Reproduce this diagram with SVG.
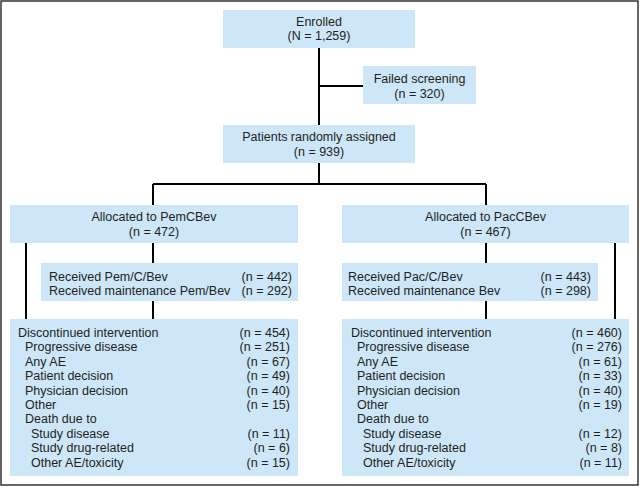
<svg xmlns="http://www.w3.org/2000/svg" width="640" height="487" viewBox="0 0 640 487">
<style>
.box{fill:#cde6f8;}
.t{font-family:"Liberation Sans",Arial,sans-serif;font-size:12.5px;fill:#231f20;}
.c{text-anchor:middle;}
.r{text-anchor:end;}
.ln{stroke:#000;stroke-width:2;fill:none;}
</style>
<rect x="1" y="1" width="637" height="484" fill="#fff" stroke="#333" stroke-width="1.5"/>
<g id="connectors">
<path class="ln" d="M319 48V125M319 86H363M319 163V184M153 184H486M153 184V205M486 184V205M153 243V263M153 301V319M486 243V263M486 301V319M26 243V319M615 243V319"/>
</g>
<g id="enrolled">
<rect class="box" x="223" y="10" width="192" height="38"/>
<text class="t c" x="319" y="26">Enrolled</text>
<text class="t c" x="319" y="40">(N = 1,259)</text>
</g>
<g id="failed">
<rect class="box" x="363" y="66" width="113" height="38"/>
<text class="t c" x="419.5" y="83">Failed screening</text>
<text class="t c" x="419.5" y="98">(n = 320)</text>
</g>
<g id="randomized">
<rect class="box" x="223" y="125" width="192" height="38"/>
<text class="t c" x="319" y="141">Patients randomly assigned</text>
<text class="t c" x="319" y="156">(n = 939)</text>
</g>
<g id="allocPem">
<rect class="box" x="10" y="205" width="288" height="38"/>
<text class="t c" x="154" y="221">Allocated to PemCBev</text>
<text class="t c" x="154" y="236">(n = 472)</text>
</g>
<g id="allocPac">
<rect class="box" x="342" y="205" width="287" height="38"/>
<text class="t c" x="485.5" y="221">Allocated to PacCBev</text>
<text class="t c" x="485.5" y="236">(n = 467)</text>
</g>
<g id="recvPem">
<rect class="box" x="41" y="263" width="257" height="38"/>
<text class="t" x="49" y="281">Received Pem/C/Bev</text>
<text class="t r" x="292" y="281">(n = 442)</text>
<text class="t" x="49" y="295">Received maintenance Pem/Bev</text>
<text class="t r" x="292" y="295">(n = 292)</text>
</g>
<g id="recvPac">
<rect class="box" x="342" y="263" width="256" height="38"/>
<text class="t" x="348" y="281">Received Pac/C/Bev</text>
<text class="t r" x="591" y="281">(n = 443)</text>
<text class="t" x="348" y="295">Received maintenance Bev</text>
<text class="t r" x="591" y="295">(n = 298)</text>
</g>
<g id="discPem">
<rect class="box" x="10" y="319" width="288" height="157"/>
<text class="t" x="18" y="337">Discontinued intervention</text><text class="t r" x="290" y="337">(n = 454)</text>
<text class="t" x="25" y="351.4">Progressive disease</text><text class="t r" x="290" y="351.4">(n = 251)</text>
<text class="t" x="25" y="365.8">Any AE</text><text class="t r" x="290" y="365.8">(n = 67)</text>
<text class="t" x="25" y="380.2">Patient decision</text><text class="t r" x="290" y="380.2">(n = 49)</text>
<text class="t" x="25" y="394.6">Physician decision</text><text class="t r" x="290" y="394.6">(n = 40)</text>
<text class="t" x="25" y="409">Other</text><text class="t r" x="290" y="409">(n = 15)</text>
<text class="t" x="25" y="423.4">Death due to</text>
<text class="t" x="31" y="437.8">Study disease</text><text class="t r" x="290" y="437.8">(n = 11)</text>
<text class="t" x="31" y="452.2">Study drug-related</text><text class="t r" x="290" y="452.2">(n = 6)</text>
<text class="t" x="31" y="466.6">Other AE/toxicity</text><text class="t r" x="290" y="466.6">(n = 15)</text>
</g>
<g id="discPac">
<rect class="box" x="342" y="319" width="287" height="157"/>
<text class="t" x="351" y="337">Discontinued intervention</text><text class="t r" x="622" y="337">(n = 460)</text>
<text class="t" x="357" y="351.4">Progressive disease</text><text class="t r" x="622" y="351.4">(n = 276)</text>
<text class="t" x="357" y="365.8">Any AE</text><text class="t r" x="622" y="365.8">(n = 61)</text>
<text class="t" x="357" y="380.2">Patient decision</text><text class="t r" x="622" y="380.2">(n = 33)</text>
<text class="t" x="357" y="394.6">Physician decision</text><text class="t r" x="622" y="394.6">(n = 40)</text>
<text class="t" x="357" y="409">Other</text><text class="t r" x="622" y="409">(n = 19)</text>
<text class="t" x="357" y="423.4">Death due to</text>
<text class="t" x="363" y="437.8">Study disease</text><text class="t r" x="622" y="437.8">(n = 12)</text>
<text class="t" x="363" y="452.2">Study drug-related</text><text class="t r" x="622" y="452.2">(n = 8)</text>
<text class="t" x="363" y="466.6">Other AE/toxicity</text><text class="t r" x="622" y="466.6">(n = 11)</text>
</g>
</svg>
